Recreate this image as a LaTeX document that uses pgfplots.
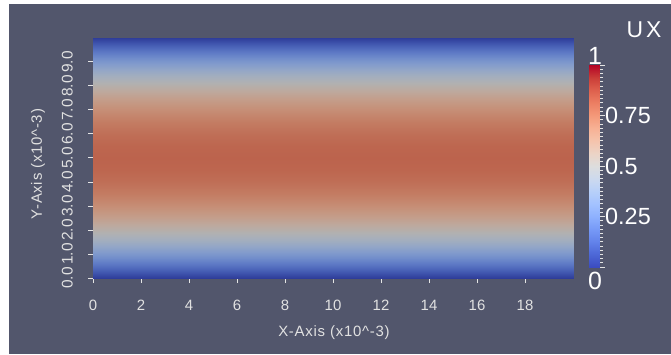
\documentclass[border=0pt]{standalone}
\usepackage{pgfplots}
\pgfplotsset{compat=1.18}
\usepackage{fontspec}
\setmainfont{Liberation Sans}
\newfontfamily\pvtitle[LetterSpace=5]{Liberation Sans}
\definecolor{bg}{RGB}{82,86,108}
\definecolor{axc}{RGB}{228,228,228}
\definecolor{txc}{RGB}{225,225,225}
\pgfplotsset{
  colormap={cwdark}{rgb255=(47,61,154) rgb255=(62,83,172) rgb255=(78,104,187) rgb255=(95,123,198)
    rgb255=(113,141,203) rgb255=(130,155,204) rgb255=(147,166,199) rgb255=(163,174,190)
    rgb255=(177,177,177) rgb255=(189,169,158) rgb255=(196,157,138) rgb255=(198,142,118)
    rgb255=(195,123,98) rgb255=(189,102,79) rgb255=(178,77,62) rgb255=(162,50,45) rgb255=(144,3,30)},
  colormap={cwbright}{rgb255=(59,76,192) rgb255=(77,104,215) rgb255=(98,130,234) rgb255=(119,154,247)
    rgb255=(141,176,254) rgb255=(163,194,255) rgb255=(184,208,249) rgb255=(204,217,238)
    rgb255=(221,221,221) rgb255=(236,211,197) rgb255=(245,196,173) rgb255=(247,177,148)
    rgb255=(244,154,123) rgb255=(236,127,99) rgb255=(222,96,77) rgb255=(203,62,56) rgb255=(180,4,38)},
}
\begin{document}
\begin{tikzpicture}[x=1bp,y=1bp]
\fill[white] (0,0) rectangle (671,354);
\fill[bg] (9,0) rectangle (671,350);
\begin{axis}[
  at={(93bp,76bp)}, anchor=south west,
  width=480bp, height=240bp, scale only axis,
  xmin=0, xmax=20, ymin=0, ymax=10,
  colormap name=cwdark, point meta min=0, point meta max=1,
  axis x line*=bottom, axis y line*=left,
  axis line style={axc, line width=1bp, -},
  tick align=outside, major tick length=5bp,
  tick style={axc, line width=1bp},
  xtick={0,2,...,18}, xticklabels={0,2,4,6,8,10,12,14,16,18},
  ytick={0,1,...,9}, yticklabels={0.0,1.0,2.0,3.0,4.0,5.0,6.0,7.0,8.0,9.0},
  /pgf/number format/assume math mode=true,
  xticklabel style={font=\fontsize{15}{17}\selectfont, txc, inner sep=0pt, anchor=base, yshift=-27bp},
  yticklabel style={font=\fontsize{15.5}{17}\selectfont, txc, inner sep=0pt, xshift=-15bp, rotate=90, anchor=south},
  xlabel={X-Axis (x10\textasciicircum-3)}, ylabel={Y-Axis (x10\textasciicircum-3)},
  xlabel style={font=\pvtitle\fontsize{15}{17}\selectfont, txc, at={(axis description cs:0.502,-0.229)}, anchor=center},
  ylabel style={font=\pvtitle\fontsize{15}{17}\selectfont, txc, at={(axis description cs:-0.1146,0.475)}, anchor=center},
  clip=false,
]
\addplot[surf, shader=interp, mesh/ordering=x varies, mesh/cols=2, point meta=\thisrow{u}] table {
x y u
0 0 0
20 0 0
0 0.5 0.1558
20 0.5 0.1558
0 1 0.2952
20 1 0.2952
0 1.5 0.4182
20 1.5 0.4182
0 2 0.5248
20 2 0.5248
0 2.5 0.615
20 2.5 0.615
0 3 0.6888
20 3 0.6888
0 3.5 0.7462
20 3.5 0.7462
0 4 0.7872
20 4 0.7872
0 4.5 0.8118
20 4.5 0.8118
0 5 0.82
20 5 0.82
0 5.5 0.8118
20 5.5 0.8118
0 6 0.7872
20 6 0.7872
0 6.5 0.7462
20 6.5 0.7462
0 7 0.6888
20 7 0.6888
0 7.5 0.615
20 7.5 0.615
0 8 0.5248
20 8 0.5248
0 8.5 0.4182
20 8.5 0.4182
0 9 0.2952
20 9 0.2952
0 9.5 0.1558
20 9.5 0.1558
0 10 0
20 10 0
};
\end{axis}
\begin{axis}[
  at={(589bp,87bp)}, anchor=south west,
  width=10bp, height=202bp, scale only axis,
  xmin=0, xmax=1, ymin=0, ymax=1,
  colormap name=cwbright, point meta min=0, point meta max=1,
  hide x axis, axis y line*=right,
  y axis line style={draw=none},
  tick align=outside, major tick length=6bp, minor tick length=4bp,
  tick style={axc, line width=0.8bp},
  ytick={0,0.25,0.5,0.75,1}, yticklabels={,0.25,0.5,0.75,},
  minor y tick num=11,
  /pgf/number format/assume math mode=true,
  yticklabel style={font=\fontsize{23.5}{26}\selectfont, white, inner sep=0pt, anchor=west, xshift=0bp},
  clip=false,
]
\addplot[surf, shader=interp, mesh/ordering=x varies, mesh/cols=2, point meta=\thisrow{u}] table {
x y u
0 0 0
1 0 0
0 0.0625 0.0625
1 0.0625 0.0625
0 0.125 0.125
1 0.125 0.125
0 0.1875 0.1875
1 0.1875 0.1875
0 0.25 0.25
1 0.25 0.25
0 0.3125 0.3125
1 0.3125 0.3125
0 0.375 0.375
1 0.375 0.375
0 0.4375 0.4375
1 0.4375 0.4375
0 0.5 0.5
1 0.5 0.5
0 0.5625 0.5625
1 0.5625 0.5625
0 0.625 0.625
1 0.625 0.625
0 0.6875 0.6875
1 0.6875 0.6875
0 0.75 0.75
1 0.75 0.75
0 0.8125 0.8125
1 0.8125 0.8125
0 0.875 0.875
1 0.875 0.875
0 0.9375 0.9375
1 0.9375 0.9375
0 1 1
1 1 1
};
\node[font=\fontsize{25}{28}\selectfont, white, inner sep=0pt, anchor=south] at (axis cs:0.6,1) {1};
\node[font=\fontsize{25}{28}\selectfont, white, inner sep=0pt, anchor=north] at (axis cs:0.6,-0.025) {0};
\end{axis}
\node[font=\fontsize{23}{26}\selectfont, white, inner sep=0pt] at (644,324) {U\kern3bp X};
\end{tikzpicture}
\end{document}
